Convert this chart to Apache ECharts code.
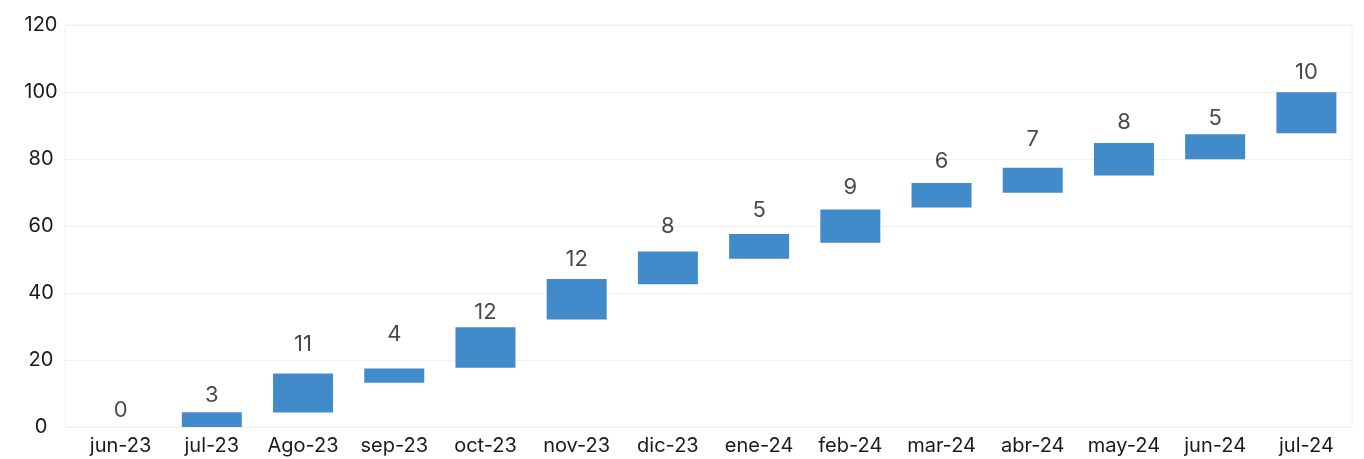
<!DOCTYPE html>
<html>
<head>
<meta charset="utf-8">
<script src="https://cdn.jsdelivr.net/npm/echarts@6/dist/echarts.min.js"></script>
<style>
html,body{margin:0;padding:0;background:#fff;}
#chart{width:1364px;height:459px;}
</style>
</head>
<body>
<div id="chart"></div>
<script>
var categories = ["jun-23","jul-23","Ago-23","sep-23","oct-23","nov-23","dic-23","ene-24","feb-24","mar-24","abr-24","may-24","jun-24","jul-24"];
var barBottom = [0, 0, 4.3, 13.2, 17.7, 32.1, 42.6, 50.2, 55.0, 65.5, 69.9, 75.1, 79.9, 87.7];
var barTop    = [0, 4.4, 16.0, 17.5, 29.8, 44.2, 52.4, 57.6, 64.9, 72.8, 77.4, 84.8, 87.4, 99.9];
var labels    = [0, 3, 11, 4, 12, 12, 8, 5, 9, 6, 7, 8, 5, 10];
var labelY    = [5.1, 9.3, 24.8, 27.5, 34.1, 49.9, 60.0, 64.6, 71.6, 79.4, 86.0, 90.8, 92.2, 105.8];
var yTicks    = [0, 20, 40, 60, 80, 100, 120];

var heights = barTop.map(function(t, i){ return t - barBottom[i]; });
var font = "Inter, 'Noto Sans', sans-serif";

var chart = echarts.init(document.getElementById('chart'));
chart.setOption({
  animation: false,
  backgroundColor: '#ffffff',
  grid: [
    {left: 65, right: 12, top: 25, bottom: 32, show: true, borderColor: '#f0f0f0', borderWidth: 1, backgroundColor: 'transparent'},
    {left: 75, right: 12, top: 25, bottom: 32}
  ],
  xAxis: [
    {type: 'category', gridIndex: 0, data: [], show: false},
    {type: 'category', gridIndex: 1, data: categories,
     axisLine: {show: false}, axisTick: {show: false},
     axisLabel: {color: '#1a1a1a', fontSize: 20, fontFamily: font, margin: 9, interval: 0}}
  ],
  yAxis: [
    {type: 'value', gridIndex: 0, min: yTicks[0], max: yTicks[yTicks.length-1], interval: 20,
     axisLine: {show: false}, axisTick: {show: false},
     axisLabel: {color: '#1a1a1a', fontSize: 20, fontFamily: font, margin: 24, align: 'center'},
     splitLine: {show: true, lineStyle: {color: '#f0f0f0', width: 1}}},
    {type: 'value', gridIndex: 1, min: 0, max: 120, show: false, splitLine: {show: false}}
  ],
  series: [
    {type: 'bar', xAxisIndex: 1, yAxisIndex: 1, stack: 'w', data: barBottom, barWidth: 60,
     itemStyle: {color: 'transparent'}, silent: true},
    {type: 'bar', xAxisIndex: 1, yAxisIndex: 1, stack: 'w', data: heights, barWidth: 60,
     itemStyle: {color: '#428bca', borderWidth: 0}},
    {type: 'scatter', xAxisIndex: 1, yAxisIndex: 1, data: labelY, symbolSize: 0,
     label: {show: true, position: 'inside', color: '#1a1a1a', textBorderWidth: 0, fontSize: 22, fontFamily: font,
       formatter: function(p){ return String(labels[p.dataIndex]); }}}
  ]
});
</script>
</body>
</html>
